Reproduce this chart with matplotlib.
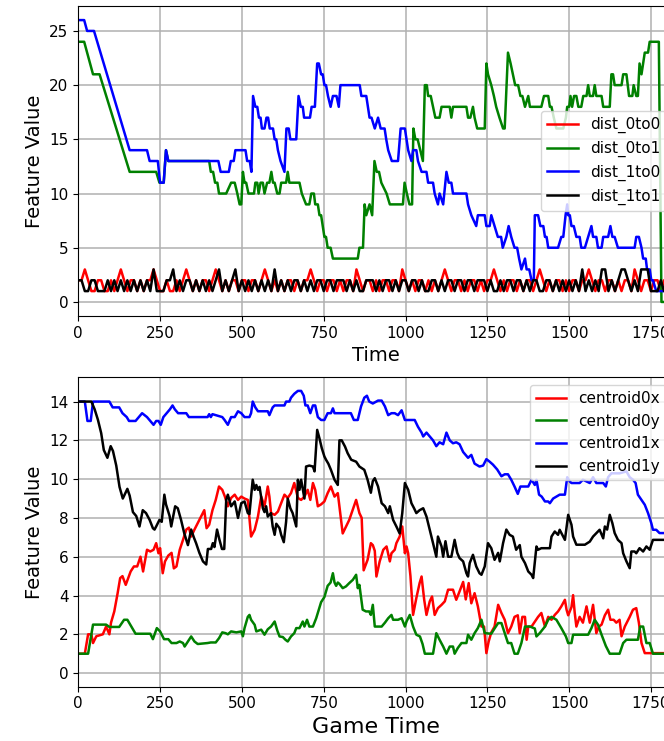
import numpy as np
import matplotlib
matplotlib.use("Agg")
import matplotlib.pyplot as plt

# ---- distance features (top panel) ----
# sampled every 10 time steps
dist_times = np.arange(0, 1810, 10)
dist_0to0 = [2, 2, 3, 2, 1, 1, 2, 2, 1, 1,
             2, 1, 2, 3, 2, 1, 2, 2, 1, 2,
             1, 2, 2, 3, 2, 1, 1, 2, 1, 1,
             2, 1, 2, 3, 2, 1, 2, 1, 2, 2,
             1, 2, 3, 2, 1, 2, 1, 2, 2, 1,
             2, 2, 1, 2, 2, 1, 2, 3, 2, 1,
             2, 1, 2, 1, 2, 2, 1, 2, 1, 2,
             2, 3, 2, 1, 2, 2, 1, 2, 2, 1,
             2, 1, 2, 2, 1, 3, 2, 1, 2, 2,
             1, 2, 1, 2, 2, 1, 2, 2, 1, 3,
             2, 1, 2, 1, 2, 2, 1, 2, 1, 2,
             1, 2, 3, 2, 1, 2, 2, 1, 2, 1,
             2, 2, 1, 2, 1, 2, 2, 3, 2, 1,
             2, 1, 2, 2, 1, 2, 1, 2, 2, 1,
             2, 3, 2, 1, 2, 1, 2, 2, 1, 2,
             1, 2, 2, 1, 2, 2, 3, 2, 1, 2,
             2, 1, 2, 2, 1, 2, 1, 2, 2, 1,
             3, 2, 1, 2, 2, 1, 2, 2, 1, 2,
             2]
dist_1to1 = [2, 2, 1, 1, 2, 2, 1, 1, 1, 2,
             1, 2, 1, 2, 1, 2, 1, 2, 1, 2,
             1, 2, 1, 3, 1, 1, 1, 2, 2, 3,
             1, 2, 1, 2, 2, 1, 2, 1, 2, 1,
             2, 1, 2, 3, 1, 2, 1, 2, 3, 1,
             2, 1, 2, 1, 2, 1, 2, 1, 2, 1,
             3, 1, 2, 1, 2, 1, 2, 2, 1, 2,
             1, 2, 1, 2, 2, 1, 2, 2, 1, 2,
             2, 2, 1, 2, 1, 2, 1, 1, 2, 2,
             2, 1, 2, 1, 2, 2, 1, 2, 1, 2,
             2, 1, 2, 2, 1, 2, 1, 1, 2, 2,
             1, 2, 1, 2, 2, 1, 2, 2, 1, 2,
             2, 1, 2, 2, 2, 1, 2, 1, 1, 2,
             1, 2, 2, 1, 2, 2, 1, 2, 1, 2,
             2, 1, 1, 2, 2, 1, 2, 1, 2, 1,
             2, 1, 2, 1, 3, 1, 2, 1, 2, 1,
             3, 3, 1, 2, 1, 2, 3, 3, 2, 1,
             2, 1, 3, 3, 3, 1, 1, 1, 2, 1,
             1]

# (time, value) where the value changes
dist_0to1 = [(0, 24), (18, 24), (45, 21), (65, 21), (157, 12), (238, 12), (248, 11), (261, 11),
             (268, 14), (275, 13), (400, 13), (405, 12), (412, 12), (418, 11), (425, 11), (430, 10),
             (452, 10), (467, 11), (478, 11), (486, 10), (493, 9), (498, 9), (503, 12), (508, 11),
             (513, 11), (520, 10), (537, 10), (541, 11), (547, 11), (551, 10), (557, 11), (564, 11),
             (569, 10), (577, 11), (584, 11), (590, 12), (595, 11), (600, 11), (608, 10), (615, 10),
             (620, 11), (635, 11), (640, 12), (645, 11), (676, 11), (683, 10), (696, 9), (706, 9),
             (712, 10), (720, 10), (724, 9), (732, 9), (737, 8), (742, 8), (747, 7), (752, 6),
             (757, 6), (762, 5), (771, 5), (778, 4), (854, 4), (859, 5), (870, 5), (875, 9),
             (880, 8), (890, 9), (898, 8), (905, 13), (912, 12), (919, 12), (926, 11), (942, 10),
             (952, 9), (992, 9), (997, 11), (1004, 10), (1012, 9), (1020, 9), (1024, 16), (1030, 15),
             (1037, 15), (1045, 14), (1053, 13), (1059, 20), (1065, 20), (1069, 19), (1077, 19),
             (1084, 18), (1091, 17), (1104, 17), (1110, 18), (1135, 18), (1140, 17), (1145, 18),
             (1186, 18), (1191, 17), (1198, 17), (1206, 18), (1211, 17), (1219, 16), (1242, 16),
             (1247, 22), (1252, 21), (1262, 20), (1270, 19), (1277, 18), (1287, 17), (1298, 16),
             (1303, 16), (1313, 23), (1321, 22), (1328, 21), (1335, 20), (1344, 20), (1351, 19),
             (1357, 19), (1365, 18), (1375, 19), (1380, 18), (1415, 18), (1423, 19), (1436, 19),
             (1441, 18), (1446, 18), (1453, 17), (1461, 16), (1482, 16), (1490, 17), (1494, 18),
             (1500, 18), (1504, 19), (1509, 18), (1515, 19), (1522, 19), (1528, 18), (1537, 18),
             (1543, 19), (1553, 19), (1558, 20), (1563, 19), (1573, 19), (1578, 20), (1583, 19),
             (1599, 19), (1604, 18), (1624, 18), (1629, 21), (1634, 21), (1639, 20), (1660, 20),
             (1665, 21), (1675, 21), (1683, 19), (1693, 19), (1697, 20), (1705, 19), (1710, 19),
             (1715, 22), (1721, 21), (1726, 22), (1731, 23), (1741, 23), (1746, 24), (1774, 24),
             (1782, 0), (1800, 0)]

dist_1to0 = [(0, 26), (18, 26), (27, 25), (48, 25), (157, 14), (210, 14), (218, 13), (243, 13),
             (250, 11), (261, 11), (268, 14), (275, 13), (428, 13), (435, 12), (460, 12), (466, 13),
             (475, 13), (480, 14), (511, 14), (516, 13), (524, 13), (529, 12), (534, 19), (541, 18),
             (547, 18), (552, 17), (557, 17), (561, 16), (569, 16), (575, 17), (580, 17), (585, 16),
             (595, 16), (600, 15), (605, 15), (610, 14), (618, 13), (630, 12), (636, 16), (643, 16),
             (648, 15), (666, 15), (673, 19), (680, 18), (686, 18), (690, 17), (708, 17), (713, 18),
             (723, 18), (730, 22), (735, 22), (742, 21), (747, 21), (752, 20), (757, 20), (763, 19),
             (771, 18), (778, 19), (789, 19), (796, 18), (801, 20), (860, 20), (865, 19), (880, 19),
             (885, 18), (890, 17), (896, 17), (906, 16), (916, 17), (924, 16), (936, 16), (941, 15),
             (947, 14), (958, 13), (977, 13), (985, 16), (998, 16), (1003, 15), (1008, 14),
             (1018, 13), (1023, 14), (1033, 14), (1038, 13), (1049, 12), (1064, 12), (1069, 11),
             (1084, 11), (1089, 10), (1099, 9), (1104, 10), (1115, 9), (1125, 12), (1132, 11),
             (1140, 11), (1145, 10), (1186, 10), (1191, 9), (1201, 8), (1216, 7), (1221, 8),
             (1242, 8), (1247, 7), (1257, 7), (1262, 8), (1272, 7), (1282, 6), (1292, 6), (1297, 5),
             (1308, 6), (1315, 7), (1323, 6), (1333, 5), (1341, 5), (1347, 4), (1354, 3), (1365, 4),
             (1370, 3), (1378, 3), (1385, 2), (1392, 2), (1395, 8), (1405, 8), (1412, 7), (1421, 7),
             (1426, 6), (1431, 6), (1436, 5), (1466, 5), (1476, 6), (1482, 6), (1489, 8), (1494, 9),
             (1497, 8), (1502, 8), (1507, 7), (1514, 7), (1522, 6), (1532, 6), (1537, 5), (1548, 5),
             (1558, 6), (1568, 7), (1573, 6), (1583, 6), (1588, 5), (1599, 5), (1604, 6), (1619, 6),
             (1626, 7), (1632, 6), (1639, 6), (1649, 5), (1700, 5), (1705, 6), (1713, 6), (1721, 5),
             (1726, 4), (1734, 4), (1738, 3), (1746, 3), (1751, 2), (1756, 2), (1766, 1), (1800, 1)]

# ---- centroid features (bottom panel) ----
centroid0x = [(0, 1), (20, 1), (30, 2), (40, 2), (45, 1.55), (55, 1.9), (75, 2), (85, 2.4), (95, 2.0),
              (100, 2.6), (110, 3.18), (120, 4.1), (128, 4.9), (135, 5.0), (145, 4.55), (160, 5.24),
              (170, 5.5), (180, 5.5), (190, 6.0), (198, 5.24), (210, 6.36), (220, 6.27), (230, 6.36),
              (238, 6.7), (245, 6.18), (250, 6.44), (258, 5.15), (265, 5.76), (275, 6.06), (285, 6.2),
              (292, 5.4), (300, 5.5), (310, 6.36), (320, 6.87), (330, 7.4), (338, 7.5), (345, 7.04),
              (355, 7.4), (365, 7.73), (375, 8.07), (385, 8.4), (392, 7.47), (400, 7.65), (410, 8.4),
              (420, 8.93), (430, 9.62), (440, 9.45), (448, 9.1), (457, 8.6), (467, 9.03), (478, 9.2),
              (488, 8.93), (498, 9.1), (508, 9.0), (518, 8.93), (528, 7.04), (539, 7.39), (549, 8.07),
              (559, 9.1), (569, 8.6), (579, 9.62), (584, 9.1), (589, 8.25), (600, 8.16), (610, 8.33),
              (620, 8.76), (630, 9.2), (640, 9.03), (650, 9.28), (660, 9.8), (671, 9.03), (681, 8.93),
              (691, 9.1), (701, 9.45), (709, 8.93), (717, 9.8), (724, 9.45), (732, 8.6), (742, 8.7),
              (752, 8.85), (762, 9.28), (772, 9.62), (783, 9.1), (793, 9.28), (808, 7.2), (828, 7.9),
              (849, 8.93), (859, 8.25), (866, 8.0), (872, 5.3), (884, 5.84), (894, 6.7), (900, 6.6),
              (906, 6.3), (911, 4.98), (921, 5.76), (932, 6.36), (942, 6.53), (952, 5.76), (957, 6.18),
              (967, 6.36), (972, 6.7), (982, 7.04), (990, 7.56), (998, 6.18), (1003, 6.53), (1008, 6.18),
              (1015, 5.0), (1023, 3.0), (1033, 3.87), (1043, 4.64), (1049, 4.98), (1057, 3.78),
              (1064, 3.0), (1074, 3.7), (1081, 3.95), (1089, 3.0), (1099, 3.35), (1110, 3.52),
              (1120, 3.7), (1130, 4.3), (1145, 4.3), (1155, 3.78), (1165, 4.21), (1176, 4.7),
              (1184, 3.8), (1193, 4.64), (1201, 3.6), (1211, 4.12), (1221, 3.44), (1232, 2.4),
              (1240, 2.4), (1247, 1.03), (1254, 1.63), (1262, 2.1), (1272, 2.4), (1283, 3.52),
              (1293, 3.1), (1303, 2.75), (1313, 2.06), (1323, 2.4), (1333, 2.9), (1343, 2.98),
              (1349, 2.06), (1357, 2.9), (1365, 2.9), (1370, 1.72), (1375, 2.4), (1385, 2.4),
              (1405, 2.9), (1415, 3.1), (1426, 2.4), (1436, 2.9), (1446, 2.75), (1456, 3.0),
              (1466, 3.18), (1476, 3.44), (1487, 3.78), (1492, 3.27), (1497, 2.98), (1507, 3.4),
              (1512, 4.02), (1517, 3.1), (1522, 2.4), (1532, 2.9), (1542, 2.6), (1553, 3.44),
              (1563, 2.6), (1573, 3.52), (1583, 2.06), (1591, 2.4), (1599, 2.5), (1609, 2.98),
              (1619, 3.27), (1626, 2.75), (1636, 2.75), (1644, 2.6), (1654, 2.75), (1660, 1.9),
              (1670, 2.4), (1685, 2.9), (1695, 3.27), (1705, 3.35), (1713, 2.6), (1721, 1.55),
              (1731, 1.03), (1800, 1.03)]

centroid0y = [(0, 1), (30, 1), (45, 2.5), (85, 2.5), (95, 2.38), (125, 2.38), (140, 2.75), (150, 2.75),
              (175, 2.03), (220, 2.03), (228, 1.75), (240, 2.32), (250, 2.15), (262, 1.75), (275, 1.75),
              (285, 1.55), (300, 1.55), (310, 1.63), (320, 1.55), (325, 1.37), (335, 1.63), (345, 1.89),
              (355, 1.63), (365, 1.5), (395, 1.55), (405, 1.58), (420, 1.58), (430, 1.8), (440, 2.1),
              (450, 2.06), (457, 2.0), (467, 2.15), (483, 2.1), (498, 2.15), (503, 1.9), (508, 2.32),
              (518, 2.9), (523, 3.0), (528, 2.75), (539, 2.49), (544, 2.15), (559, 2.24), (569, 1.98),
              (579, 2.26), (589, 2.4), (600, 2.66), (608, 2.2), (615, 1.89), (625, 1.86), (633, 1.72),
              (640, 1.63), (650, 1.89), (660, 2.06), (666, 2.32), (676, 2.32), (686, 2.66), (691, 2.4),
              (699, 2.75), (706, 2.4), (717, 2.4), (727, 2.83), (742, 3.66), (752, 3.92), (762, 4.5),
              (771, 4.67), (778, 5.15), (783, 4.67), (788, 4.5), (793, 4.67), (798, 4.6), (808, 4.38),
              (818, 4.47), (828, 4.64), (839, 4.81), (849, 5.07), (854, 4.38), (859, 4.55), (869, 3.27),
              (879, 3.18), (889, 3.18), (894, 3.0), (900, 3.52), (906, 2.4), (927, 2.4), (937, 2.6),
              (947, 2.83), (957, 3.0), (962, 2.75), (977, 2.75), (988, 2.83), (998, 2.4), (1003, 2.66),
              (1013, 3.0), (1023, 2.4), (1033, 1.98), (1044, 1.89), (1052, 1.5), (1059, 1.0),
              (1084, 1.0), (1089, 1.5), (1094, 2.06), (1104, 1.72), (1115, 1.37), (1125, 1.0),
              (1135, 1.37), (1145, 1.37), (1150, 1.0), (1160, 1.3), (1171, 1.55), (1186, 1.55),
              (1191, 1.98), (1201, 1.72), (1211, 2.06), (1221, 2.32), (1232, 2.75), (1242, 2.06),
              (1262, 2.03), (1272, 2.3), (1283, 2.58), (1293, 2.58), (1303, 2.06), (1313, 1.55),
              (1323, 1.55), (1333, 1.0), (1343, 1.0), (1354, 1.55), (1365, 2.4), (1380, 2.4),
              (1395, 2.3), (1400, 1.89), (1410, 2.06), (1426, 2.4), (1436, 2.75), (1446, 2.9),
              (1461, 2.75), (1476, 2.32), (1490, 1.89), (1497, 1.55), (1507, 1.55), (1512, 1.98),
              (1558, 1.98), (1568, 2.32), (1578, 2.75), (1588, 2.5), (1599, 1.98), (1612, 1.4),
              (1624, 1.0), (1654, 1.0), (1665, 1.55), (1675, 1.72), (1710, 1.72), (1717, 2.4),
              (1726, 2.4), (1736, 1.55), (1746, 1.55), (1756, 1.0), (1800, 1.0)]

centroid1x = [(0, 14), (20, 14), (28, 13), (38, 13), (45, 14), (95, 14), (105, 13.7), (125, 13.7),
              (135, 13.4), (148, 13.2), (155, 13), (175, 13), (185, 13.2), (195, 13.4), (210, 13.2),
              (220, 13), (230, 12.8), (238, 13), (245, 13), (252, 12.8), (260, 13.2), (270, 13.4),
              (280, 13.6), (288, 13.8), (295, 13.6), (305, 13.4), (330, 13.4), (338, 13.2), (395, 13.2),
              (400, 13.35), (405, 13.2), (410, 13.35), (440, 13.2), (447, 13.05), (457, 12.8),
              (467, 13.2), (478, 13.2), (488, 13.5), (498, 13.4), (508, 13.2), (523, 13.2), (528, 13.4),
              (533, 14), (541, 13.7), (549, 13.5), (579, 13.5), (584, 13.3), (594, 13.7), (600, 13.8),
              (630, 13.8), (635, 14), (645, 14), (650, 14.2), (660, 14.4), (671, 14.55), (681, 14.55),
              (689, 14.3), (694, 13.8), (701, 13.8), (709, 13.4), (717, 13.8), (724, 13.8), (732, 13.2),
              (742, 13.05), (752, 13.05), (762, 13.4), (772, 13.4), (778, 13.65), (783, 13.4),
              (833, 13.4), (842, 13.05), (854, 13.05), (864, 13.75), (874, 14.2), (882, 14.3),
              (889, 14.0), (900, 13.9), (916, 14.05), (927, 14.05), (937, 13.75), (947, 13.3),
              (957, 13.4), (967, 13.4), (977, 13.3), (988, 13.55), (998, 13.05), (1028, 13.05),
              (1038, 12.7), (1049, 12.4), (1054, 12.2), (1064, 12.4), (1074, 12.2), (1084, 12.0),
              (1094, 11.7), (1104, 11.9), (1115, 11.8), (1125, 12.4), (1135, 12.0), (1145, 11.85),
              (1155, 11.9), (1165, 11.8), (1176, 11.4), (1191, 11.1), (1201, 11.25), (1211, 10.8),
              (1226, 10.65), (1237, 10.7), (1247, 11.03), (1257, 10.9), (1267, 10.75), (1280, 10.5),
              (1293, 10.15), (1303, 10.25), (1313, 10.25), (1323, 9.97), (1333, 9.62), (1343, 9.24),
              (1351, 9.62), (1375, 9.62), (1385, 9.97), (1395, 9.7), (1400, 9.97), (1408, 9.2),
              (1416, 9.1), (1426, 8.85), (1436, 8.85), (1441, 8.76), (1451, 9.0), (1471, 9.2),
              (1487, 9.2), (1494, 10.1), (1502, 9.88), (1507, 9.8), (1532, 9.8), (1542, 9.97),
              (1563, 9.8), (1573, 10.1), (1583, 9.8), (1604, 9.8), (1612, 9.62), (1619, 10.1),
              (1629, 10.3), (1654, 10.3), (1675, 10.4), (1685, 10.1), (1695, 9.97), (1703, 9.8),
              (1710, 9.2), (1720, 8.95), (1731, 8.68), (1741, 8.25), (1751, 7.73), (1756, 7.39),
              (1766, 7.39), (1776, 7.22), (1800, 7.22)]

centroid1y = [(0, 14), (40, 14), (50, 13.6), (60, 13.06), (70, 12.37), (78, 11.5), (89, 11.1), (99, 11.7),
              (106, 11.45), (116, 10.7), (126, 9.6), (136, 9.0), (150, 9.5), (157, 9.15), (167, 8.3),
              (177, 8.1), (187, 7.56), (197, 8.4), (207, 8.25), (218, 7.9), (228, 7.47), (233, 7.4),
              (238, 7.56), (248, 7.9), (255, 7.8), (263, 9.2), (268, 8.7), (279, 8.1), (284, 7.56),
              (296, 8.6), (304, 8.5), (314, 7.9), (324, 7.2), (335, 6.6), (345, 7.4), (353, 7.0),
              (360, 6.7), (370, 6.2), (381, 5.76), (391, 5.6), (396, 6.4), (406, 6.4), (411, 6.7),
              (416, 6.5), (424, 7.4), (431, 6.9), (439, 6.4), (446, 6.4), (452, 8.93), (457, 9.2),
              (467, 8.6), (478, 8.85), (488, 8.0), (498, 8.76), (508, 8.85), (518, 8.25), (523, 8.2),
              (533, 9.97), (539, 9.45), (544, 9.7), (549, 9.45), (554, 9.6), (564, 8.5), (569, 8.3),
              (574, 8.6), (579, 8.07), (589, 8.25), (594, 7.56), (600, 7.13), (605, 7.7), (615, 7.47),
              (620, 7.13), (628, 6.75), (635, 7.8), (640, 9.0), (648, 8.5), (655, 8.25), (666, 7.56),
              (671, 9.97), (676, 9.45), (681, 9.97), (691, 9.0), (696, 10.65), (706, 10.7), (717, 10.65),
              (722, 10.4), (730, 12.54), (737, 12.1), (744, 11.6), (752, 11.17), (757, 11.0),
              (764, 10.8), (772, 10.48), (783, 9.97), (793, 9.7), (798, 12.0), (805, 12.0), (815, 11.68),
              (823, 11.34), (834, 11.0), (849, 10.9), (859, 10.65), (874, 10.48), (884, 9.97),
              (894, 9.3), (900, 9.9), (906, 10.05), (916, 9.62), (927, 8.76), (937, 8.6), (947, 8.25),
              (952, 8.6), (962, 7.9), (972, 7.56), (982, 7.2), (990, 8.25), (998, 9.8), (1008, 9.45),
              (1018, 8.76), (1026, 8.5), (1033, 8.25), (1043, 8.4), (1054, 8.5), (1064, 8.07),
              (1074, 7.39), (1084, 6.7), (1094, 6.0), (1099, 7.04), (1110, 6.53), (1115, 6.0),
              (1122, 6.8), (1130, 6.0), (1140, 6.0), (1150, 6.87), (1158, 6.2), (1165, 5.93),
              (1176, 5.76), (1186, 5.15), (1191, 4.98), (1196, 5.67), (1206, 6.1), (1216, 5.5),
              (1226, 5.15), (1232, 5.07), (1242, 5.5), (1252, 6.7), (1262, 6.44), (1272, 5.84),
              (1283, 6.2), (1288, 5.76), (1298, 6.7), (1308, 7.4), (1318, 7.13), (1328, 7.04),
              (1338, 6.36), (1349, 6.6), (1354, 6.0), (1365, 5.67), (1375, 5.24), (1385, 5.07),
              (1390, 4.9), (1400, 6.53), (1405, 6.36), (1415, 6.44), (1441, 6.44), (1446, 7.04),
              (1456, 7.3), (1466, 7.13), (1471, 7.39), (1487, 6.87), (1492, 7.5), (1497, 8.16),
              (1502, 7.9), (1507, 7.65), (1512, 7.04), (1522, 6.62), (1548, 6.62), (1563, 6.78),
              (1573, 7.04), (1593, 7.39), (1604, 6.95), (1609, 7.56), (1616, 7.4), (1624, 8.16),
              (1632, 7.73), (1639, 7.22), (1649, 6.87), (1660, 6.7), (1665, 6.18), (1675, 5.76),
              (1685, 5.41), (1690, 6.27), (1700, 6.27), (1705, 6.18), (1715, 6.44), (1726, 6.27),
              (1736, 6.53), (1746, 6.36), (1756, 6.87), (1800, 6.87)]

line_colors = ["red", "green", "blue", "black"]
LW = 1.8

fig = plt.figure(figsize=(6.64, 7.41), dpi=100)
ax1 = fig.add_axes([0.1179, 0.5735, 0.897, 0.4184])
ax2 = fig.add_axes([0.1179, 0.0733, 0.897, 0.4175])

# top: distances
ax1.plot(dist_times, dist_0to0, color=line_colors[0], lw=LW, label="dist_0to0")
for pairs, c, name in [(dist_0to1, line_colors[1], "dist_0to1"),
                       (dist_1to0, line_colors[2], "dist_1to0")]:
    t, v = np.array(pairs, dtype=float).T
    ax1.plot(t, v, color=c, lw=LW, label=name)
ax1.plot(dist_times, dist_1to1, color=line_colors[3], lw=LW, label="dist_1to1")
ax1.set_xlim(0, 1820)
ax1.set_ylim(-1.3, 27.3)
ax1.set_yticks(range(0, 26, 5))
ax1.set_xlabel("Time", fontsize=14)
ax1.set_ylabel("Feature Value", fontsize=14)
ax1.legend(loc="center right", fontsize=11)

# bottom: centroids
for pairs, c, name in [(centroid0x, line_colors[0], "centroid0x"),
                       (centroid0y, line_colors[1], "centroid0y"),
                       (centroid1x, line_colors[2], "centroid1x"),
                       (centroid1y, line_colors[3], "centroid1y")]:
    t, v = np.array(pairs, dtype=float).T
    ax2.plot(t, v, color=c, lw=LW, label=name)
ax2.set_xlim(0, 1820)
ax2.set_ylim(-0.7, 15.25)
ax2.set_yticks(range(0, 15, 2))
ax2.set_xlabel("Game Time", fontsize=16)
ax2.set_ylabel("Feature Value", fontsize=14)
ax2.legend(loc="upper right", fontsize=11)

for ax in (ax1, ax2):
    ax.set_xticks(range(0, 1800, 250))
    ax.tick_params(labelsize=11)
    ax.grid(True, color="#b0b0b0", lw=1.1)
    ax.set_axisbelow(True)

fig.savefig("out.png", dpi=100)
